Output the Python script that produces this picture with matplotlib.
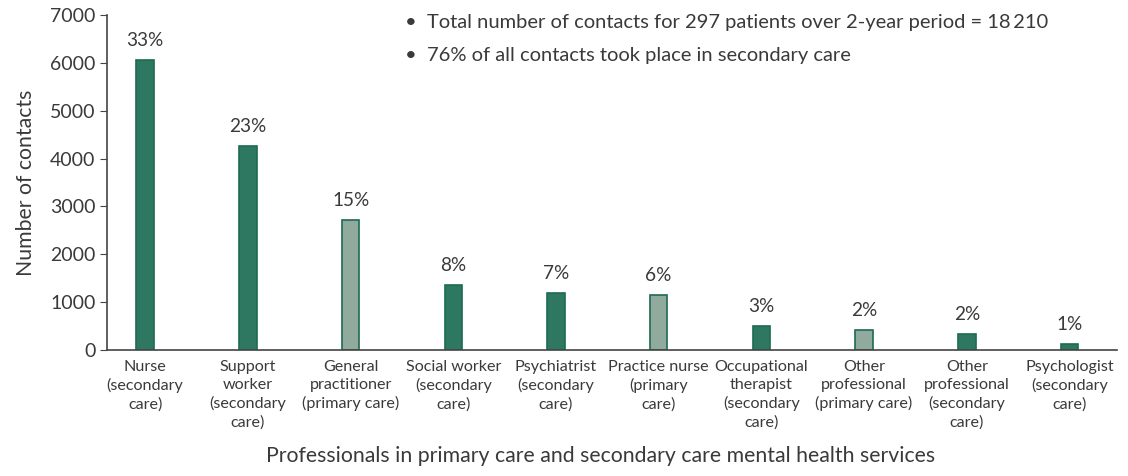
import matplotlib.pyplot as plt
import numpy as np

plt.rcParams['font.family'] = ['Lato', 'DejaVu Sans']

# data
categories = ['Nurse\n(secondary\ncare)', 'Support\nworker\n(secondary\ncare)',
              'General\npractitioner\n(primary care)', 'Social worker\n(secondary\ncare)',
              'Psychiatrist\n(secondary\ncare)', 'Practice nurse\n(primary\ncare)',
              'Occupational\ntherapist\n(secondary\ncare)', 'Other\nprofessional\n(primary care)',
              'Other\nprofessional\n(secondary\ncare)', 'Psychologist\n(secondary\ncare)']
contacts = [6060, 4260, 2710, 1360, 1190, 1150, 500, 420, 335, 125]
percents = ['33%', '23%', '15%', '8%', '7%', '6%', '3%', '2%', '2%', '1%']
primary = [False, False, True, False, False, True, False, True, False, False]

dark = '#2e7862'
light = '#90ab9d'
edge = '#1d6b52'
txt = '#3a3a3a'

fig = plt.figure(figsize=(11.28, 4.76), dpi=100)
ax = fig.add_axes([0.095, 0.265, 0.895, 0.703])

x = np.arange(len(categories))
colors = [light if p else dark for p in primary]
ax.bar(x, contacts, width=0.17, color=colors, edgecolor=edge, linewidth=1.2)

for xi, v, p in zip(x, contacts, percents):
    ax.annotate(p, (xi, v), xytext=(0, 8), textcoords='offset points',
                ha='center', va='bottom', fontsize=13.7, color=txt)

ax.set_xlim(-0.37, 9.46)
ax.set_ylim(0, 7000)
ax.set_yticks(np.arange(0, 7001, 1000))
ax.set_xticks(x)
ax.set_xticklabels(categories, fontsize=11.6, color=txt, linespacing=1.38)
ax.tick_params(axis='x', length=0, pad=7)
ax.tick_params(axis='y', labelsize=14, labelcolor=txt, length=5, color='#444444')

for s in ['top', 'right']:
    ax.spines[s].set_visible(False)
for s in ['left', 'bottom']:
    ax.spines[s].set_color('#444444')
    ax.spines[s].set_linewidth(1.2)

ax.set_ylabel('Number of contacts', fontsize=15.3, color=txt, labelpad=10)
fig.text(0.532, 0.022, 'Professionals in primary care and secondary care mental health services',
         ha='center', va='bottom', fontsize=15.3, color=txt)

ax.text(0.295, 0.979, '\u2022  Total number of contacts for 297 patients over 2-year period = 18\u2009210',
        transform=ax.transAxes, fontsize=14.5, color=txt, va='center')
ax.text(0.295, 0.881, '\u2022  76% of all contacts took place in secondary care',
        transform=ax.transAxes, fontsize=14.5, color=txt, va='center')

fig.savefig('out.png', dpi=100)
